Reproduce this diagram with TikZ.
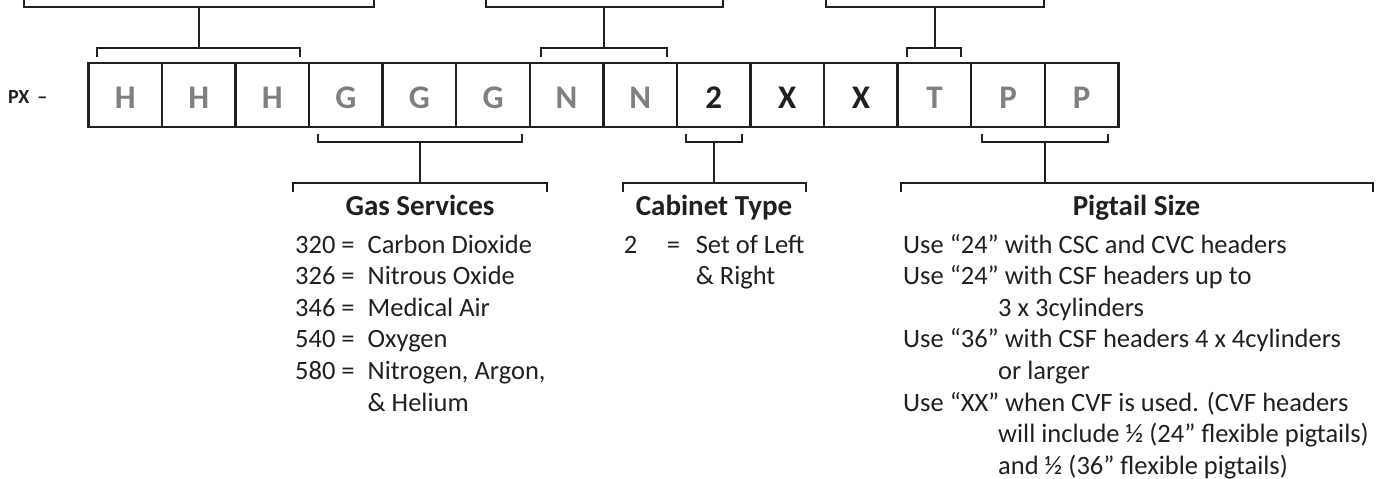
\documentclass[tikz,border=0pt]{standalone}
\usepackage{fontspec}
\setmainfont{Carlito}
\usepackage{array}
\definecolor{ink}{RGB}{35,31,32}
\definecolor{lettergray}{RGB}{128,128,128}
\begin{document}
\begin{tikzpicture}[x=1pt,y=-1pt,
  line/.style={draw=ink,line width=2pt},
  cell/.style={draw=ink,line width=2.4pt,minimum width=73.57pt,minimum height=63.6pt,inner sep=0pt},
  lettr/.style={font=\fontsize{33}{38}\selectfont\bfseries,anchor=base,inner sep=0pt},
  gl/.style={lettr,text=lettergray},
  bl/.style={lettr,text=ink},
  title/.style={font=\fontsize{29}{34}\selectfont\bfseries,text=ink,anchor=base,inner sep=0pt},
  body/.style={font=\fontsize{26.5}{31.6}\selectfont,text=ink,inner sep=0pt,align=left}
]
\useasboundingbox (0,0) rectangle (1381,479);
% code cells
\foreach \i in {1,...,14}{
  \node[cell] (c\i) at ({88.4+73.57*(\i-0.5)},95) {};
}
\foreach \i/\t/\s in {1/H/gl,2/H/gl,3/H/gl,4/G/gl,5/G/gl,6/G/gl,7/N/gl,8/N/gl,9/2/bl,10/X/bl,11/X/bl,12/T/gl,13/P/gl,14/P/gl}{
  \node[\s] (t\i) at ({88.4+73.57*(\i-0.5)},108.3) {\t};
}
\node[font=\fontsize{20}{24}\selectfont\bfseries,text=ink,anchor=base west,inner sep=0pt] (px) at (8,103) {PX\hspace{8pt}–};

% top brackets over cells
\coordinate (h1) at (97,56.7);  \coordinate (h2) at (300,56.7);
\coordinate (n1) at (541,56.7); \coordinate (n2) at (666.5,56.7);
\coordinate (r1) at (907,56.7); \coordinate (r2) at (961,56.7);
\coordinate (hm) at (199,48.3);\coordinate (nm) at (603.6,48.3);\coordinate (rm) at (935,48.3);
\draw[line] (h1) |- (hm) -| (h2);
\draw[line] (n1) |- (nm) -| (n2);
\draw[line] (r1) |- (rm) -| (r2);
% top wide brackets (cut off at top edge)
\coordinate (A1) at (24,-2);   \coordinate (A2) at (373.6,-2);
\coordinate (B1) at (485.5,-2);\coordinate (B2) at (722.5,-2);
\coordinate (C1) at (826,-2);  \coordinate (C2) at (1044,-2);
\coordinate (Am) at (199,7);   \coordinate (Bm) at (603.6,7);  \coordinate (Cm) at (935,7);
\draw[line] (A1) |- (Am) -| (A2);
\draw[line] (B1) |- (Bm) -| (B2);
\draw[line] (C1) |- (Cm) -| (C2);
% stems up
\draw[line] (hm) -- (Am);
\draw[line] (nm) -- (Bm);
\draw[line] (rm) -- (Cm);

% bottom brackets under cells
\coordinate (g1) at (318.3,134); \coordinate (g2) at (522,134);
\coordinate (k1) at (686,134);   \coordinate (k2) at (741.6,134);
\coordinate (p1) at (982,134);   \coordinate (p2) at (1107.7,134);
\coordinate (gm) at (420,141.5); \coordinate (km) at (714,141.5); \coordinate (pm) at (1045,141.5);
\draw[line] (g1) |- (gm) -| (g2);
\draw[line] (k1) |- (km) -| (k2);
\draw[line] (p1) |- (pm) -| (p2);
% wide brackets below
\coordinate (G1) at (293.3,191.5); \coordinate (G2) at (547,191.5);
\coordinate (K1) at (622.5,191.5); \coordinate (K2) at (806,191.5);
\coordinate (P1) at (901,191.5);   \coordinate (P2) at (1372.5,191.5);
\coordinate (Gm) at (420,182.7);   \coordinate (Km) at (714,182.7);  \coordinate (Pm) at (1045,182.7);
\draw[line] (G1) |- (Gm) -| (G2);
\draw[line] (K1) |- (Km) -| (K2);
\draw[line] (P1) |- (Pm) -| (P2);
% stems down
\draw[line] (gm) -- (Gm);
\draw[line] (km) -- (Km);
\draw[line] (pm) -- (Pm);

% titles
\node[title] (gas) at (420,215) {Gas Services};
\node[title] (cab) at (714,215) {Cabinet Type};
\node[title] (pig) at (1136.5,215) {Pigtail Size};

% lists
\node[body,anchor=base west] (gaslist) at (295,253) {%
\begin{tabular}[t]{@{}l@{\hspace{13pt}}l@{}}
320 = & Carbon Dioxide\\
326 = & Nitrous Oxide\\
346 = & Medical Air\\
540 = & Oxygen\\
580 = & Nitrogen, Argon,\\
      & \& Helium
\end{tabular}};
\node[body,anchor=base west] (cablist) at (623.6,253) {%
\begin{tabular}[t]{@{}p{43pt}@{}p{29pt}@{}l@{}}
2 & = & Set of Left\\
  &   & \& Right
\end{tabular}};
\node[body,anchor=base west] (piglist) at (903,253) {%
\begin{tabular}[t]{@{}l@{}}
Use “24” with CSC and CVC headers\\
Use “24” with CSF headers up to\\
\hspace*{95pt}3 x 3cylinders\\
Use “36” with CSF headers 4 x 4cylinders\\
\hspace*{95pt}or larger\\
Use “XX” when CVF is used. (CVF headers\\
\hspace*{95pt}will include ½ (24” flexible pigtails)\\
\hspace*{95pt}and ½ (36” flexible pigtails)
\end{tabular}};
\end{tikzpicture}
\end{document}
